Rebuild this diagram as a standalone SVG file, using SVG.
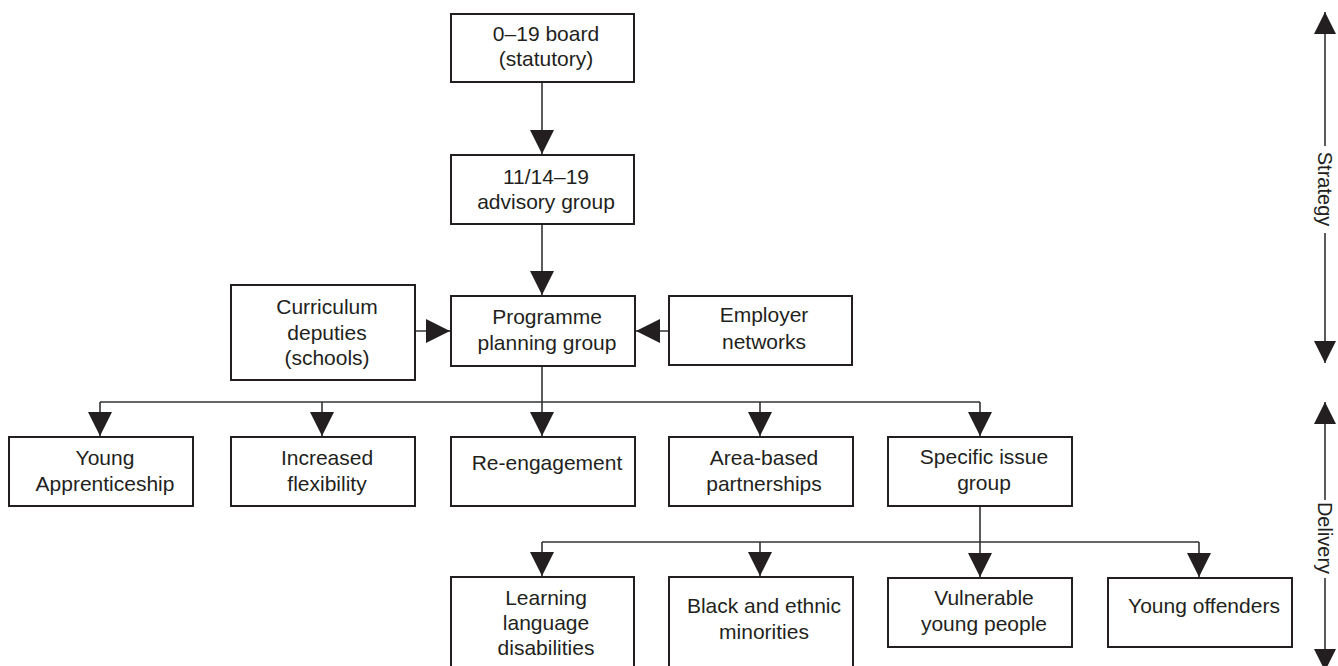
<svg xmlns="http://www.w3.org/2000/svg" width="1338" height="666" viewBox="0 0 1338 666">
<defs>
<style>
.box{fill:#fff;stroke:#231f20;stroke-width:2}
.lbl{font-family:"Liberation Sans",Arial,sans-serif;font-size:21px;fill:#231f20;text-anchor:middle}
.ax{font-family:"Liberation Sans",Arial,sans-serif;font-size:20px;fill:#231f20;text-anchor:middle}
.con{fill:none;stroke:#333;stroke-width:1.6}
</style>
<marker id="ah" markerUnits="userSpaceOnUse" markerWidth="24" markerHeight="24" viewBox="0 0 22 22" refX="22" refY="11" orient="auto">
<path d="M0,0 L22,11 L0,22 Z" fill="#231f20"/>
</marker>
<marker id="ahs" markerUnits="userSpaceOnUse" markerWidth="22" markerHeight="22" viewBox="0 0 20 20" refX="20" refY="10" orient="auto">
<path d="M0,0 L20,10 L0,20 Z" fill="#231f20"/>
</marker>
</defs>
<rect width="1338" height="666" fill="#fff"/>

<g id="connectors">
<line class="con" x1="542" y1="82" x2="542" y2="154" marker-end="url(#ah)"/>
<line class="con" x1="542" y1="224" x2="542" y2="295" marker-end="url(#ah)"/>
<line class="con" x1="415" y1="331" x2="450" y2="331" marker-end="url(#ah)"/>
<line class="con" x1="669" y1="331" x2="636" y2="331" marker-end="url(#ah)"/>
<polyline class="con" points="542,366 542,402"/>
<line class="con" x1="100" y1="402" x2="980" y2="402"/>
<line class="con" x1="100" y1="402" x2="100" y2="436" marker-end="url(#ah)"/>
<line class="con" x1="322" y1="402" x2="322" y2="436" marker-end="url(#ah)"/>
<line class="con" x1="542" y1="402" x2="542" y2="436" marker-end="url(#ah)"/>
<line class="con" x1="760" y1="402" x2="760" y2="436" marker-end="url(#ah)"/>
<line class="con" x1="980" y1="402" x2="980" y2="436" marker-end="url(#ah)"/>
<polyline class="con" points="980,506 980,542"/>
<line class="con" x1="542" y1="542" x2="1199" y2="542"/>
<line class="con" x1="542" y1="542" x2="542" y2="576" marker-end="url(#ah)"/>
<line class="con" x1="760" y1="542" x2="760" y2="576" marker-end="url(#ah)"/>
<line class="con" x1="980" y1="542" x2="980" y2="577" marker-end="url(#ah)"/>
<line class="con" x1="1199" y1="542" x2="1199" y2="577" marker-end="url(#ah)"/>
</g>

<g id="axis-strategy">
<line class="con" x1="1325" y1="146" x2="1325" y2="12" marker-end="url(#ahs)"/>
<line class="con" x1="1325" y1="233" x2="1325" y2="363" marker-end="url(#ahs)"/>
<text class="ax" transform="translate(1325,189) rotate(90)" x="0" y="7">Strategy</text>
</g>
<g id="axis-delivery">
<line class="con" x1="1325" y1="500" x2="1325" y2="402" marker-end="url(#ahs)"/>
<line class="con" x1="1325" y1="578" x2="1325" y2="671" marker-end="url(#ahs)"/>
<text class="ax" transform="translate(1325,538) rotate(90)" x="0" y="7">Delivery</text>
</g>

<g id="board"><rect class="box" x="451" y="14" width="183" height="68"/>
<text class="lbl" x="546" y="41">0–19 board</text><text class="lbl" x="546" y="66">(statutory)</text></g>
<g id="advisory"><rect class="box" x="451" y="155" width="183" height="69"/>
<text class="lbl" x="546" y="184">11/14–19</text><text class="lbl" x="546" y="209">advisory group</text></g>
<g id="curriculum"><rect class="box" x="231" y="285" width="184" height="95"/>
<text class="lbl" x="327" y="314">Curriculum</text><text class="lbl" x="327" y="340">deputies</text><text class="lbl" x="327" y="365">(schools)</text></g>
<g id="programme"><rect class="box" x="451" y="296" width="184" height="70"/>
<text class="lbl" x="547" y="324">Programme</text><text class="lbl" x="547" y="350">planning group</text></g>
<g id="employer"><rect class="box" x="669" y="296" width="183" height="69"/>
<text class="lbl" x="764" y="322">Employer</text><text class="lbl" x="764" y="349">networks</text></g>

<g id="young-apprenticeship"><rect class="box" x="9" y="437" width="184" height="69"/>
<text class="lbl" x="105" y="465">Young</text><text class="lbl" x="105" y="491">Apprenticeship</text></g>
<g id="increased-flexibility"><rect class="box" x="231" y="437" width="184" height="69"/>
<text class="lbl" x="327" y="465">Increased</text><text class="lbl" x="327" y="491">flexibility</text></g>
<g id="re-engagement"><rect class="box" x="451" y="437" width="184" height="69"/>
<text class="lbl" x="547" y="470">Re-engagement</text></g>
<g id="area-based"><rect class="box" x="669" y="437" width="184" height="69"/>
<text class="lbl" x="764" y="465">Area-based</text><text class="lbl" x="764" y="491">partnerships</text></g>
<g id="specific-issue"><rect class="box" x="888" y="437" width="184" height="69"/>
<text class="lbl" x="984" y="464">Specific issue</text><text class="lbl" x="984" y="490">group</text></g>

<g id="learning"><rect class="box" x="451" y="577" width="183" height="100"/>
<text class="lbl" x="546" y="605">Learning</text><text class="lbl" x="546" y="630">language</text><text class="lbl" x="546" y="655">disabilities</text></g>
<g id="black-ethnic"><rect class="box" x="669" y="577" width="184" height="100"/>
<text class="lbl" x="764" y="613">Black and ethnic</text><text class="lbl" x="764" y="639">minorities</text></g>
<g id="vulnerable"><rect class="box" x="888" y="578" width="184" height="69"/>
<text class="lbl" x="984" y="605">Vulnerable</text><text class="lbl" x="984" y="631">young people</text></g>
<g id="young-offenders"><rect class="box" x="1108" y="578" width="184" height="69"/>
<text class="lbl" x="1204" y="613">Young offenders</text></g>
</svg>
